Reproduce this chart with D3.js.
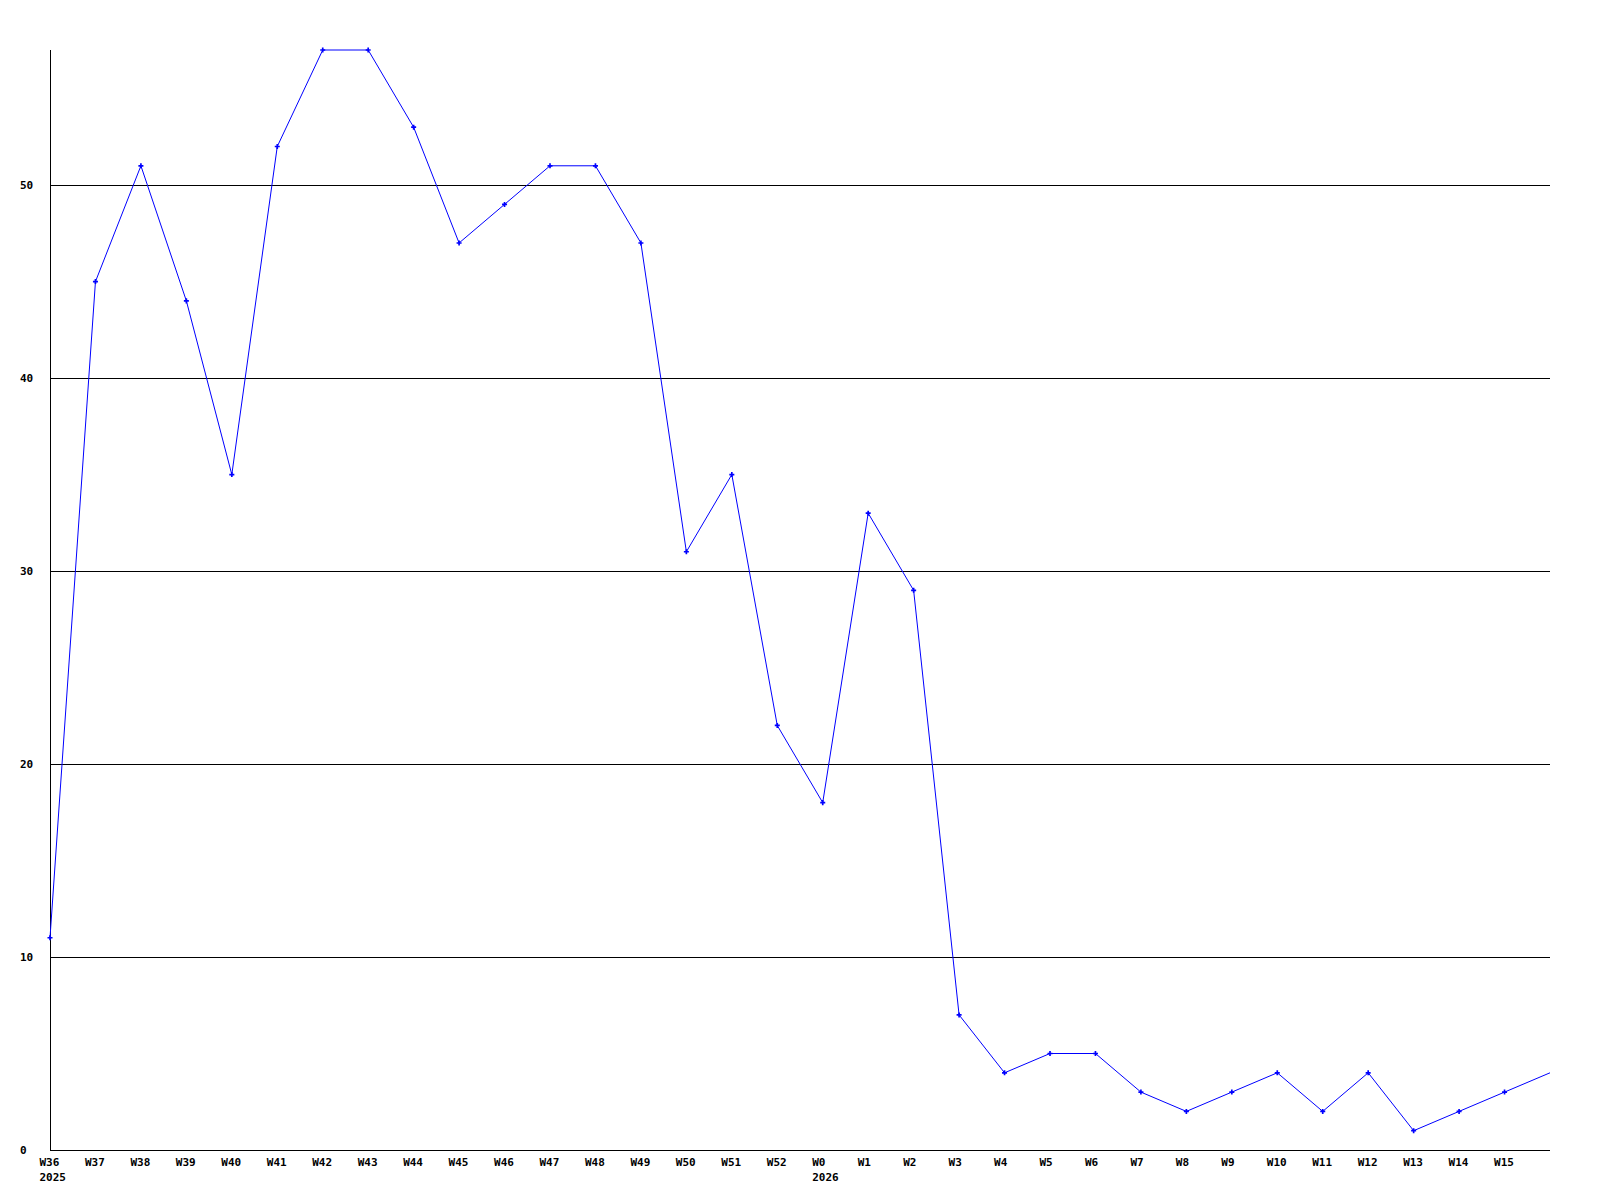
<!DOCTYPE html>
<html>
<head>
<meta charset="utf-8">
<script src="https://d3js.org/d3.v7.min.js"></script>
<style>
  body { margin: 0; background: #fff; }
  text { font-family: "DejaVu Sans Mono", monospace; font-weight: bold; font-size: 11px; fill: #000; }
</style>
</head>
<body>
<div id="chart"></div>
<script>
    // semaines et valeurs
    const semaines = ["W36","W37","W38","W39","W40","W41","W42","W43","W44","W45","W46","W47","W48","W49","W50","W51","W52",
                      "W0","W1","W2","W3","W4","W5","W6","W7","W8","W9","W10","W11","W12","W13","W14","W15","W16"];
    const valeurs = [11,45,51,44,35,52,57,57,53,47,49,51,51,47,31,35,22,
                     18,33,29,7,4,5,5,3,2,3,4,2,4,1,2,3,4];
    const annees = [{ index: 0, label: "2025" }, { index: 17, label: "2026" }];
    const graduations = [0, 10, 20, 30, 40, 50];

    const largeur = 1600, hauteur = 1200;
    const gauche = 50, droite = 1550, haut = 50, bas = 1150;

    const svg = d3.select("#chart").append("svg")
        .attr("width", largeur)
        .attr("height", hauteur);

    const x = d3.scaleLinear().domain([0, semaines.length - 1]).range([gauche, droite]);
    const y = d3.scaleLinear().domain([0, 57]).range([bas, haut]);

    // lignes horizontales
    svg.append("g").selectAll("line")
        .data(graduations)
        .join("line")
        .attr("x1", gauche).attr("x2", droite)
        .attr("y1", d => Math.round(y(d)) + 0.5).attr("y2", d => Math.round(y(d)) + 0.5)
        .attr("stroke", "black")
        .attr("shape-rendering", "crispEdges");

    svg.append("line")
        .attr("x1", gauche + 0.5).attr("x2", gauche + 0.5)
        .attr("y1", haut).attr("y2", bas)
        .attr("stroke", "black")
        .attr("shape-rendering", "crispEdges");

    // étiquettes de l'axe vertical
    svg.append("g").selectAll("text")
        .data(graduations)
        .join("text")
        .attr("x", 20)
        .attr("y", d => y(d) + 4)
        .text(d => d);

    // étiquettes des semaines (la dernière sort du cadre)
    const etiquettes = semaines.slice(0, semaines.length - 1);
    svg.append("g").selectAll("text")
        .data(etiquettes)
        .join("text")
        .attr("x", (d, i) => x(i) - 10.5)
        .attr("y", bas + 16)
        .text(d => d);

    svg.append("g").selectAll("text")
        .data(annees)
        .join("text")
        .attr("x", d => x(d.index) - 10.5)
        .attr("y", bas + 31)
        .text(d => d.label);

    // courbe
    const ligne = d3.line()
        .x((d, i) => x(i))
        .y(d => y(d));

    svg.append("path")
        .datum(valeurs)
        .attr("d", ligne)
        .attr("fill", "none")
        .attr("stroke", "#0000ff")
        .attr("stroke-width", 1);

    const symbole = d3.symbol().type(d3.symbolCross).size(14);
    svg.append("g").selectAll("path")
        .data(valeurs.slice(0, valeurs.length - 1))
        .join("path")
        .attr("d", symbole)
        .attr("transform", (d, i) => `translate(${x(i)},${y(d)})`)
        .attr("fill", "#0000ff");
</script>
</body>
</html>
